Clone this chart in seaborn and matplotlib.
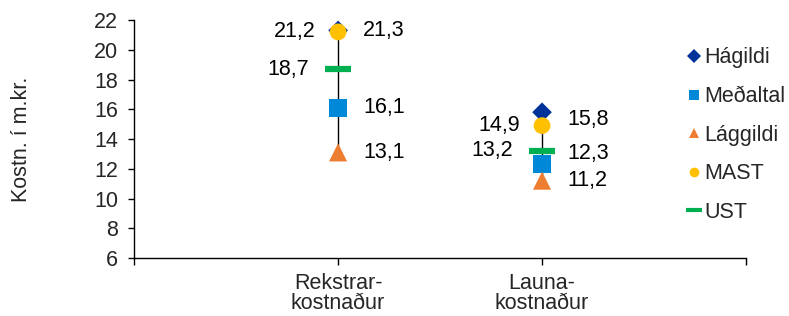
import numpy as np
import pandas as pd
import seaborn as sns
import matplotlib.pyplot as plt
from matplotlib.lines import Line2D

categories = ["Rekstrar-\nkostnaður", "Launa-\nkostnaður"]
hagildi = [21.3, 15.8]
medaltal = [16.1, 12.3]
laggildi = [13.1, 11.2]
mast = [21.2, 14.9]
ust = [18.7, 13.2]

sns.set_theme(style="white")
plt.rcParams["font.family"] = ["Liberation Sans", "DejaVu Sans"]
FS = 15.5

fig = plt.figure(figsize=(7.89, 3.16), dpi=100)
ax = fig.add_axes([0.170, 0.1835, 0.7755, 0.7532])

x = np.arange(len(categories))

# high-low line
for i in x:
    lo = min(hagildi[i], medaltal[i], laggildi[i], mast[i], ust[i])
    hi = max(hagildi[i], medaltal[i], laggildi[i], mast[i], ust[i])
    ax.plot([i, i], [lo, hi], color="black", lw=1, zorder=1)

series = [
    ("Hágildi", hagildi, "D", "#003399", 100, 18),
    ("Meðaltal", medaltal, "s", "#0088d8", 170, 18),
    ("Lággildi", laggildi, "^", "#ed7d31", 170, 18),
    ("MAST", mast, "o", "#ffc000", 145, -16),
    ("UST", ust, "_", "#00b050", 360, -21),
]
# small tweaks for label collisions (points)
nudge = {("Hágildi", 1): -5, ("Meðaltal", 1): 8}

for name, vals, mk, col, size, dx in series:
    df = pd.DataFrame({"x": x, "y": vals})
    if mk == "_":
        sns.scatterplot(data=df, x="x", y="y", marker=mk, s=size, color=col,
                        linewidth=4.5, ax=ax, zorder=2, legend=False)
    else:
        sns.scatterplot(data=df, x="x", y="y", marker=mk, s=size, color=col,
                        edgecolor="none", linewidth=0, ax=ax, zorder=3, legend=False)
    for i, v in enumerate(vals):
        ha = "left" if dx > 0 else "right"
        ax.annotate(f"{v:.1f}".replace(".", ","), (i, v),
                    xytext=(dx, nudge.get((name, i), 0)), textcoords="offset points",
                    ha=ha, va="center", fontsize=FS, color="black")

ax.set_xlim(-1, 2)
ax.set_ylim(6, 22)
ax.set_yticks(range(6, 23, 2))
ax.set_xticks(x)
ax.set_xticklabels(categories, fontsize=FS, linespacing=0.95)
ax.set_xticks([-1, 2], minor=True)
ax.tick_params(axis="y", labelsize=FS, left=True, length=4.5, width=1, color="black", pad=7)
ax.tick_params(axis="x", which="both", bottom=True, length=5, width=1, color="black", pad=6)
ax.set_xlabel("")
ax.set_ylabel("Kostn. í m.kr.", fontsize=FS, labelpad=45)
for s in ["top", "right"]:
    ax.spines[s].set_visible(False)
for s in ["left", "bottom"]:
    ax.spines[s].set_color("black")
    ax.spines[s].set_linewidth(1)

handles = []
for name, vals, mk, col, size, dx in series:
    if mk == "_":
        handles.append(Line2D([], [], marker=mk, color=col, ls="none",
                              markersize=11, markeredgewidth=3, label=name))
    else:
        handles.append(Line2D([], [], marker=mk, color=col, ls="none",
                              markersize=7, markeredgewidth=0, label=name))
fig.legend(handles=handles, loc="upper left", bbox_to_anchor=(0.870, 0.85),
           frameon=False, fontsize=FS, handlelength=0.7, handletextpad=0.12,
           labelspacing=0.82, borderaxespad=0, borderpad=0)

fig.savefig("out.png", dpi=100)
